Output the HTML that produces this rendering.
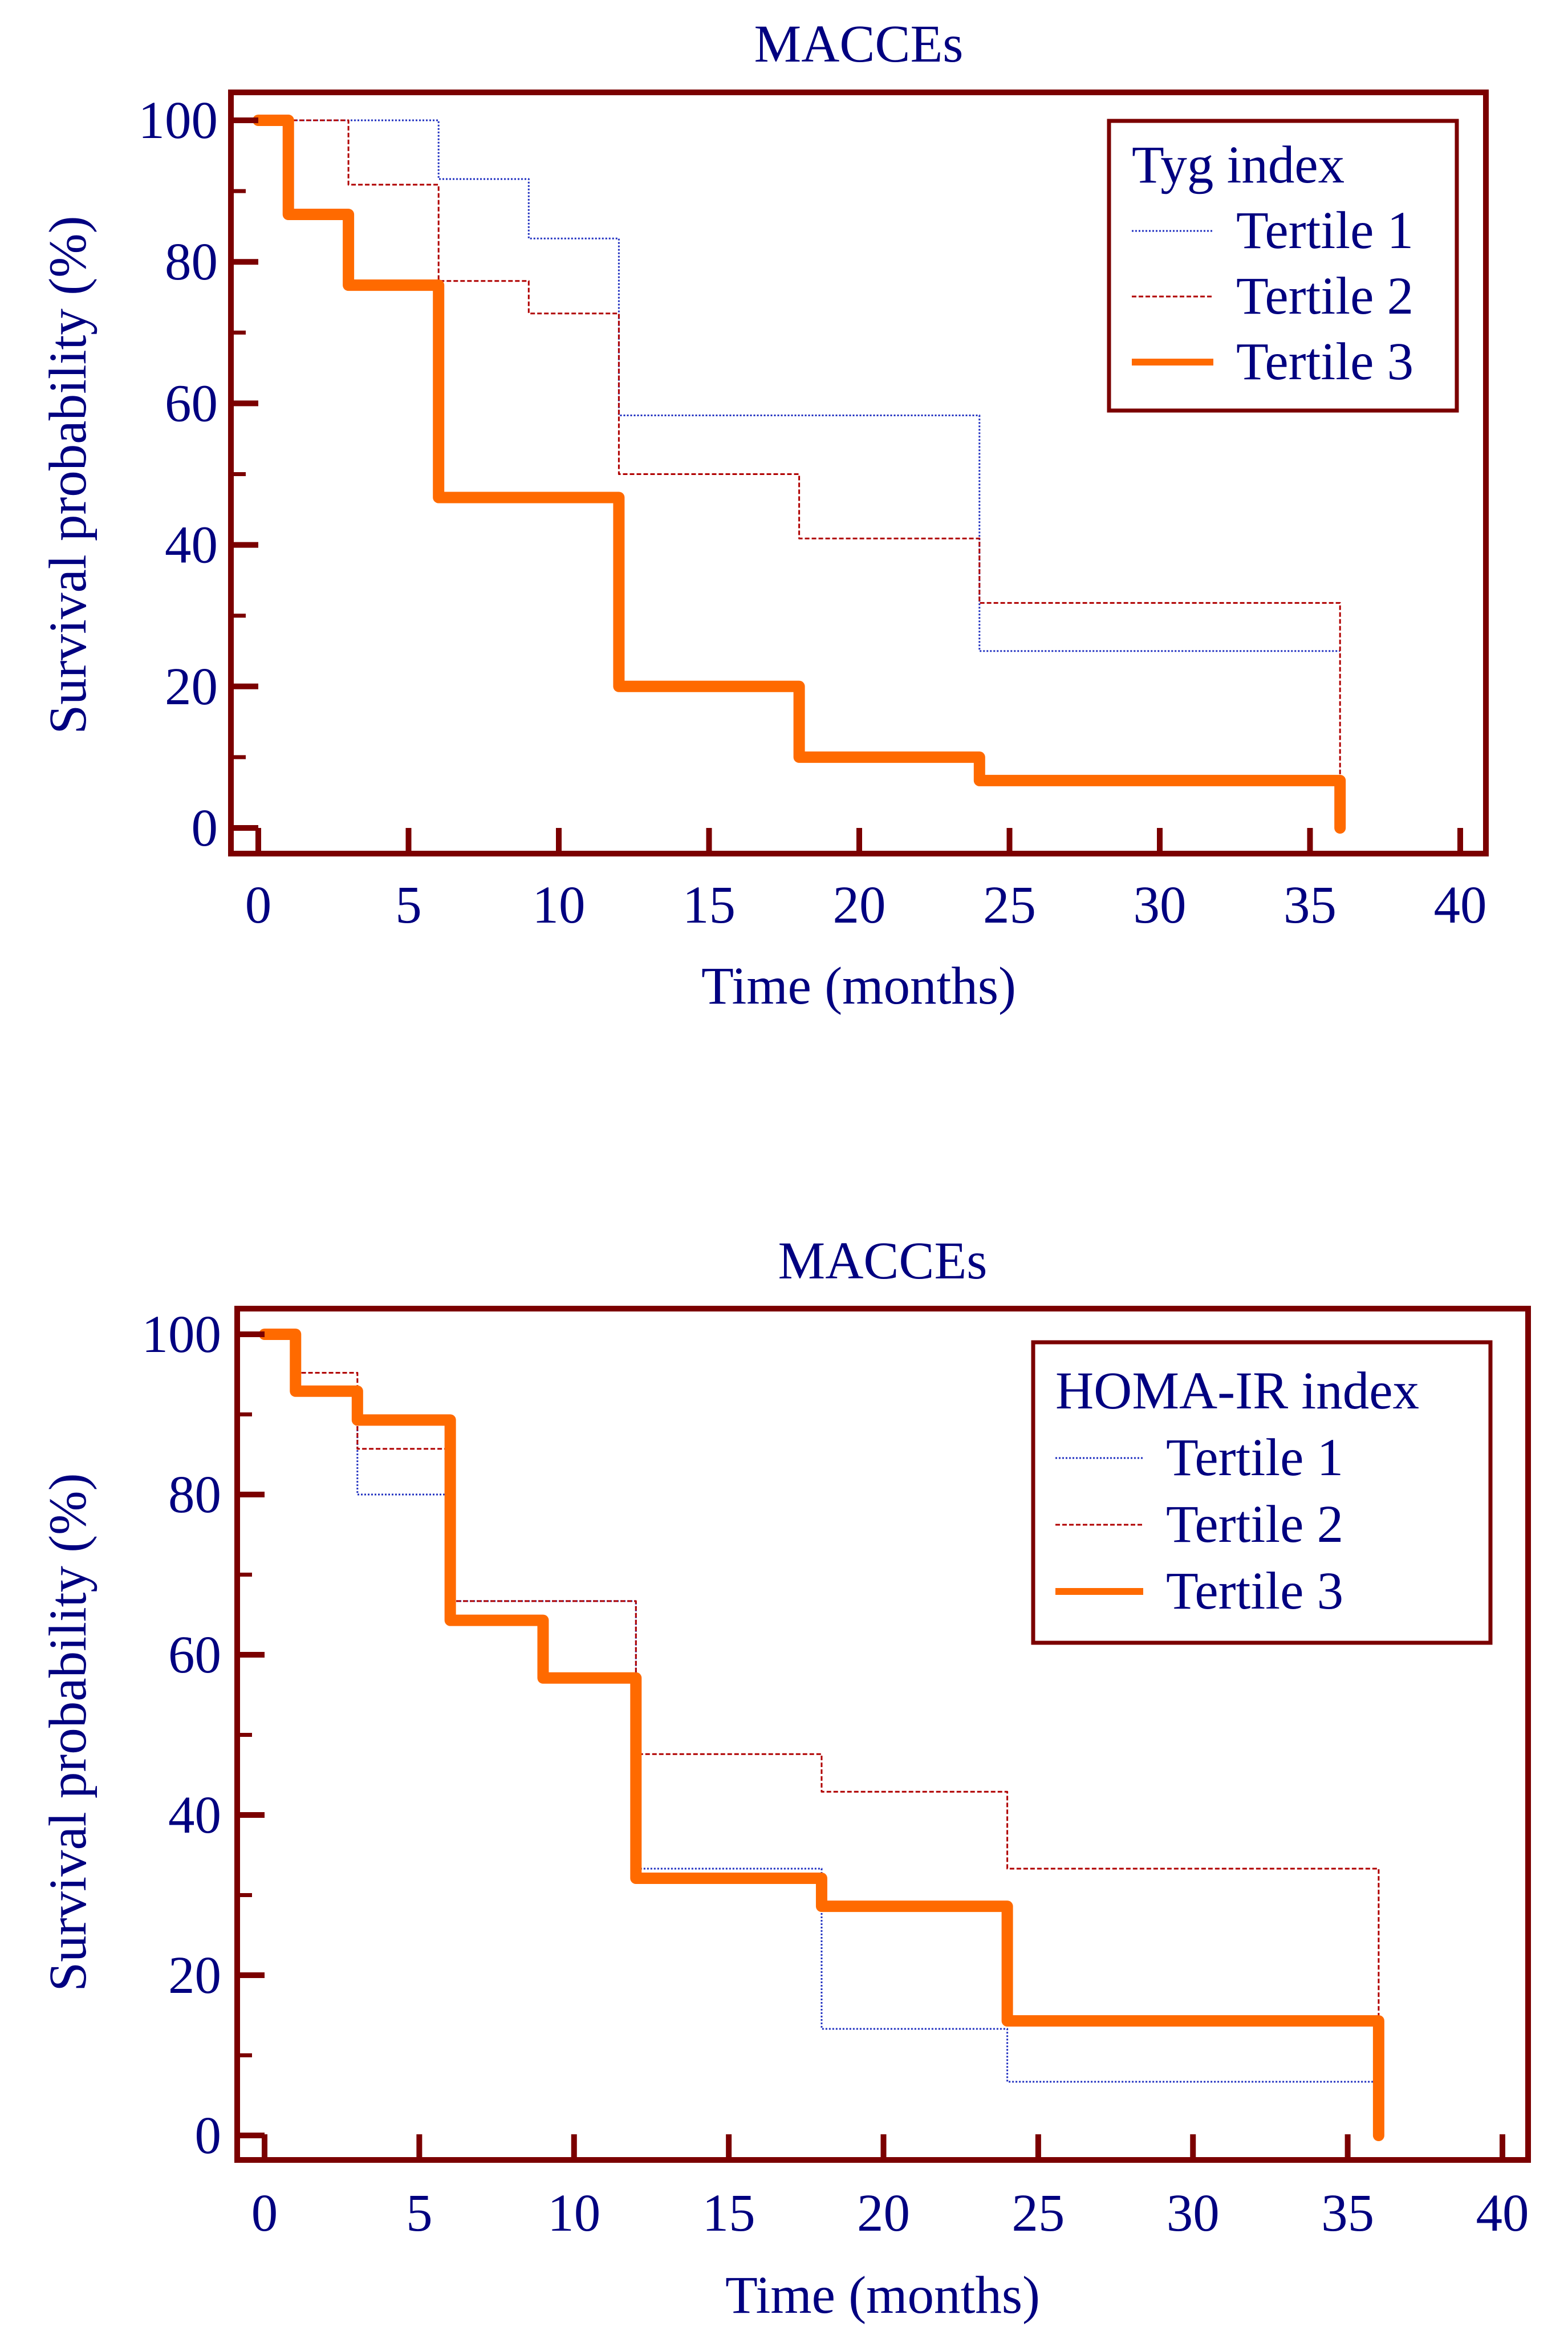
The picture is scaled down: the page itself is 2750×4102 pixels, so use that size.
<!DOCTYPE html>
<html><head><meta charset="utf-8"><style>
html,body{margin:0;padding:0;background:#fff;}
svg{display:block;font-family:"Liberation Serif",serif;}
</style></head><body>
<svg id="svg" width="2750" height="4102" viewBox="0 0 2750 4102" xmlns="http://www.w3.org/2000/svg"></svg>
<script>
const xTicks=[0,5,10,15,20,25,30,35,40];
const yTicks=[0,20,40,60,80,100];
const yMinor=[10,30,50,70,90];
const legendLabels=["Tertile 1","Tertile 2","Tertile 3"];
// Tyg chart data (step times, survival %)
const tygT1Times=[0,6,9,12,24,36];
const tygT1Vals=[100,91.7,83.3,58.3,25,25];
const tygT2Times=[0,3,6,9,12,18,24,36];
const tygT2Vals=[100,90.9,77.3,72.7,50,40.9,31.8,0];
const tygT3Times=[0,1,3,6,12,18,24,36];
const tygT3Vals=[100,86.7,76.7,46.7,20,10,6.7,0];
// HOMA-IR chart data
const homaT1Times=[0,1,3,6,12,18,24,36];
const homaT1Vals=[100,93.3,80,66.7,33.3,13.3,6.7,6.7];
const homaT2Times=[0,1,3,6,12,18,24,36];
const homaT2Vals=[100,95.2,85.7,66.7,47.6,42.9,33.3,0];
const homaT3Times=[0,1,3,6,9,12,18,24,36];
const homaT3Vals=[100,92.9,89.3,64.3,57.1,32.1,28.6,14.3,0];

const NS="http://www.w3.org/2000/svg";
const svg=document.getElementById('svg');
const NAVY="#000080",MAROON="#7b0000",ORANGE="#ff6a00";
const FS=93;
function mk(tag,attrs,parent){const e=document.createElementNS(NS,tag);for(const k in attrs)e.setAttribute(k,attrs[k]);(parent||svg).appendChild(e);return e;}

function chart(c){
  const g=mk('g',{});
  
  
  const X=v=>c.x0+(c.x40-c.x0)*v/40;
  const Y=v=>c.y0+(c.y100-c.y0)*v/100;
  const t=mk('text',{x:c.titleX,y:c.titleY,'text-anchor':'middle','font-size':FS,fill:NAVY},g);t.textContent='MACCEs';
  
  
  const series=[
    {t:c.t1t,v:c.t1v,stroke:'#2030c0',w:3,dash:'3 3',name:'series-tertile-1'},
    {t:c.t2t,v:c.t2v,stroke:'#b00000',w:3,dash:'8 4',name:'series-tertile-2'},
    {t:c.t3t,v:c.t3v,stroke:ORANGE,w:20,dash:'',name:'series-tertile-3'}];
  series.forEach(s=>{
    let d='M'+X(s.t[0])+','+Y(s.v[0]);
    for(let i=1;i<s.t.length;i++){d+=' L'+X(s.t[i])+','+Y(s.v[i-1])+' L'+X(s.t[i])+','+Y(s.v[i]);}
    const p=mk('path',{d:d,fill:'none',stroke:s.stroke,'stroke-width':s.w,'stroke-dasharray':s.dash,'stroke-linejoin':'round','stroke-linecap':s.w>10?'round':'butt'},g);
    
    
  });
  const f=mk('rect',{x:c.fl,y:c.ft,width:c.fr-c.fl,height:c.fb-c.ft,fill:'none',stroke:MAROON,'stroke-width':10},g);
  
  
  xTicks.forEach(v=>{
    const l=mk('line',{x1:X(v),x2:X(v),y1:c.fb,y2:c.fb-45,stroke:MAROON,'stroke-width':10},g);
    
    
    const tx=mk('text',{x:X(v),y:c.xlabY,'text-anchor':'middle','font-size':FS,fill:NAVY},g);tx.textContent=v;
    
    
  });
  yTicks.forEach(v=>{
    const l=mk('line',{x1:c.fl,x2:c.fl+48,y1:Y(v),y2:Y(v),stroke:MAROON,'stroke-width':10},g);
    
    
    const tx=mk('text',{x:c.ylabX,y:Y(v)+31,'text-anchor':'end','font-size':FS,fill:NAVY},g);tx.textContent=v;
    
    
  });
  yMinor.forEach(v=>{
    const l=mk('line',{x1:c.fl,x2:c.fl+26,y1:Y(v),y2:Y(v),stroke:MAROON,'stroke-width':7},g);
    
    
  });
  const xt=mk('text',{x:c.titleX,y:c.xTitleY,'text-anchor':'middle','font-size':FS,fill:NAVY},g);xt.textContent='Time (months)';
  
  
  const yt=mk('text',{x:0,y:0,'text-anchor':'middle','font-size':FS,fill:NAVY,transform:'translate('+c.yTitleX+','+c.yTitleY+') rotate(-90)'},g);yt.textContent='Survival probability (%)';
  
  
  const lg=mk('g',{},g);
  
  
  mk('rect',{x:c.lx,y:c.ly,width:c.lw,height:c.lh,fill:'#fff',stroke:MAROON,'stroke-width':7},lg);
  const lt=mk('text',{x:c.ltx,y:c.lty,'font-size':FS,fill:NAVY},lg);lt.textContent=c.legendTitle;
  
  
  legendLabels.forEach((lab,i)=>{
    const s=series[i];
    const ly=c.lty+(i+1)*c.lstep;
    const ln=mk('line',{x1:c.ltx,x2:c.lsx2,y1:ly-30,y2:ly-30,stroke:s.stroke,'stroke-width':s.w>10?12:3,'stroke-dasharray':s.dash},lg);
    
    
    const tx=mk('text',{x:c.lsx2+40,y:ly,'font-size':FS,fill:NAVY},lg);tx.textContent=lab;
    
    
  });
}
chart({name:'tyg-chart',x0:453,x40:2561,y0:1452,y100:211,fl:405,fr:2606,ft:162,fb:1497,
  titleX:1506,titleY:108,xlabY:1618,xTitleY:1760,ylabX:382,yTitleX:150,yTitleY:833,
  t1t:tygT1Times,t1v:tygT1Vals,t2t:tygT2Times,t2v:tygT2Vals,t3t:tygT3Times,t3v:tygT3Vals,
  legendTitle:'Tyg index',lx:1945,ly:212,lw:610,lh:508,ltx:1985,lty:320,lstep:115,lsx2:2128});
chart({name:'homa-ir-chart',x0:464,x40:2635,y0:3745,y100:2340,fl:416,fr:2680,ft:2295,fb:3788,
  titleX:1548,titleY:2242,xlabY:3912,xTitleY:4056,ylabX:388,yTitleX:150,yTitleY:3038,
  t1t:homaT1Times,t1v:homaT1Vals,t2t:homaT2Times,t2v:homaT2Vals,t3t:homaT3Times,t3v:homaT3Vals,
  legendTitle:'HOMA-IR index',lx:1812,ly:2354,lw:802,lh:527,ltx:1851,lty:2470,lstep:117,lsx2:2005});
</script>
</body></html>
